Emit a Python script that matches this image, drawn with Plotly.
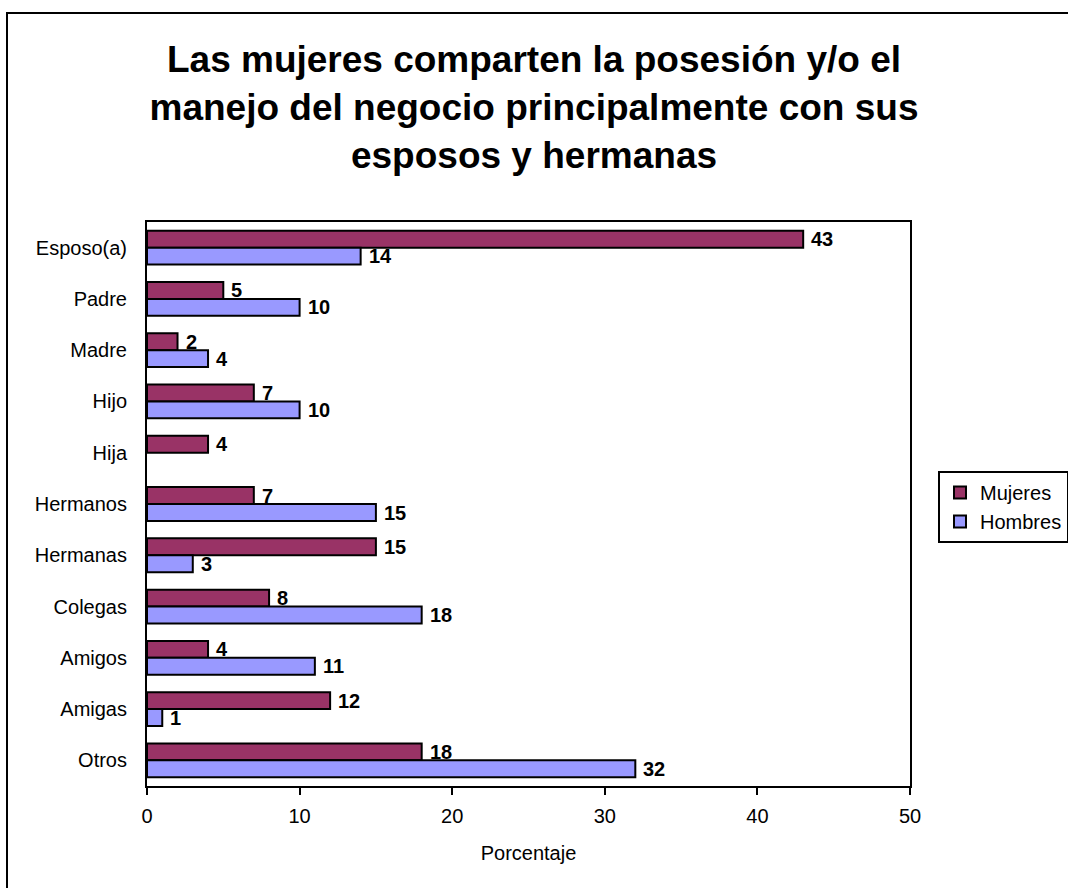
import plotly.graph_objects as go

# Categories (top to bottom) and percentage values per group
categorias = ["Esposo(a)", "Padre", "Madre", "Hijo", "Hija", "Hermanos",
              "Hermanas", "Colegas", "Amigos", "Amigas", "Otros"]
mujeres = [43, 5, 2, 7, 4, 7, 15, 8, 4, 12, 18]
hombres = [14, 10, 4, 10, None, 15, 3, 18, 11, 1, 32]
x_ticks = [0, 10, 20, 30, 40, 50]

FONT = "Liberation Sans, Arial, sans-serif"
COLOR_MUJERES = "#993366"
COLOR_HOMBRES = "#9999FF"
BAR_OFFSET_PX = 8.5  # half the height of one bar in a pair

fig = go.Figure()
for nombre, valores, color in [("Mujeres", mujeres, COLOR_MUJERES),
                               ("Hombres", hombres, COLOR_HOMBRES)]:
    fig.add_trace(go.Bar(
        name=nombre, y=categorias, x=valores, orientation="h",
        marker=dict(color=color, line=dict(color="black", width=2)),
    ))

# Value labels to the right of each bar
anotaciones = []
for valores, shift in [(mujeres, BAR_OFFSET_PX), (hombres, -BAR_OFFSET_PX)]:
    for cat, v in zip(categorias, valores):
        if v is None:
            continue
        anotaciones.append(dict(
            x=v, y=cat, xref="x", yref="y", text=str(v), showarrow=False,
            xanchor="left", yanchor="middle", xshift=6, yshift=shift,
            font=dict(family=FONT, size=20, color="black", weight="bold"),
        ))

fig.update_layout(
    width=1068, height=888,
    margin=dict(l=147, r=158, t=222, b=102, autoexpand=False),
    paper_bgcolor="white", plot_bgcolor="white",
    barmode="group", bargap=0.34, bargroupgap=0,
    font=dict(family=FONT, size=20, color="black"),
    title=dict(
        text="Las mujeres comparten la posesión y/o el<br>"
             "manejo del negocio principalmente con sus<br>"
             "esposos y hermanas",
        x=0.5, xanchor="center", y=1 - 72 / 888, yanchor="middle",
        font=dict(family=FONT, size=37, color="black", weight="bold"),
    ),
    xaxis=dict(
        range=[0, 50], tickvals=x_ticks, ticks="outside", ticklen=7,
        tickwidth=2, tickcolor="black", showgrid=False, zeroline=False,
        showline=True, linecolor="black", linewidth=2, mirror=True,
        tickfont=dict(size=20), ticklabelstandoff=4,
        title=dict(text="Porcentaje", font=dict(size=20), standoff=20),
    ),
    yaxis=dict(
        autorange="reversed", showgrid=False, zeroline=False, ticks="",
        showline=True, linecolor="black", linewidth=2, mirror=True,
        tickfont=dict(size=20), ticklabelstandoff=14,
    ),
    legend=dict(
        x=(938 - 147) / 763, y=(786 - 471) / 564, xanchor="left", yanchor="top",
        bordercolor="black", borderwidth=2, bgcolor="white",
        traceorder="normal", font=dict(size=20), itemwidth=30,
    ),
    annotations=anotaciones,
    shapes=[dict(
        type="rect", xref="paper", yref="paper",
        x0=(7 - 147) / 763, x1=2.0, y0=-1.0, y1=(786 - 13) / 564,
        line=dict(color="black", width=2), fillcolor="rgba(0,0,0,0)", layer="below",
    )],
)

fig.write_html("out.html")
